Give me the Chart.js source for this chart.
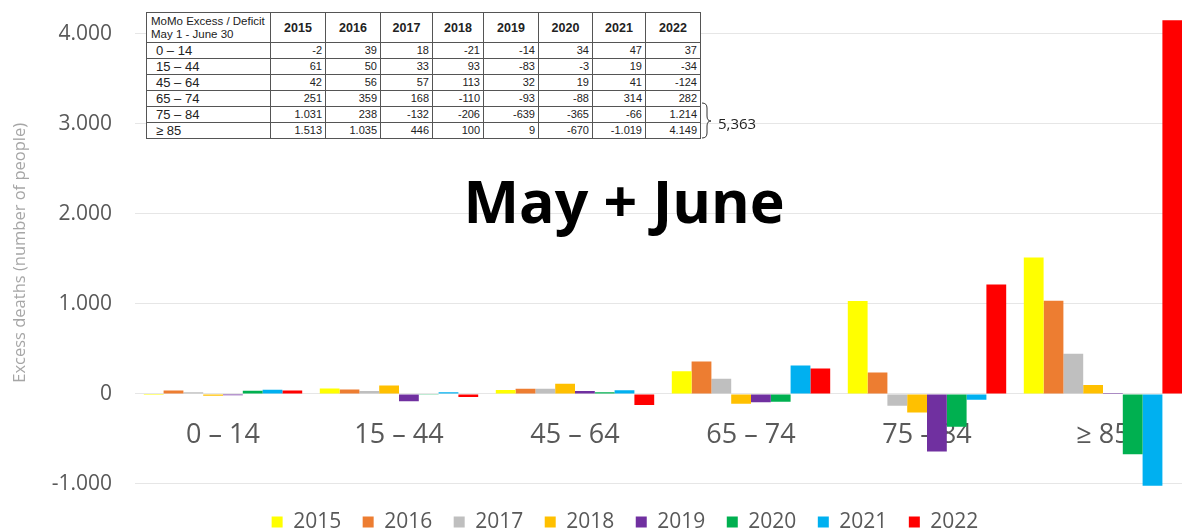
<!DOCTYPE html>
<html>
<head>
<meta charset="utf-8">
<script src="https://cdn.jsdelivr.net/npm/chart.js@4/dist/chart.umd.min.js"></script>
<style>
  html, body { margin: 0; padding: 0; background: #fff; }
  #wrap { position: relative; width: 1182px; height: 530px; overflow: hidden; }
  #c { position: absolute; left: 0; top: 0; }
  #tbl {
    position: absolute; left: 146px; top: 12px;
    border-collapse: collapse; table-layout: fixed;
    font-family: "Liberation Sans", Arial, sans-serif; color: #222;
    background: #fff;
  }
  #tbl td, #tbl th { border: 1px solid #555; padding: 0 3px; white-space: nowrap; overflow: hidden; }
  #tbl th { height: 29px; font-size: 12.5px; font-weight: bold; text-align: center; }
  #tbl th.lbl { font-size: 11.5px; font-weight: normal; text-align: left; line-height: 13px; padding-left: 4px; }
  #tbl td { height: 15px; font-size: 11px; text-align: right; line-height: 15px; }
  #tbl td.age { font-size: 13px; text-align: left; padding-left: 9px; }
  #brace { position: absolute; left: 698px; top: 100px; }
  #sum { position: absolute; left: 718px; top: 113px; font: 15px "Open Sans", sans-serif; color: #222; }
</style>
</head>
<body>
<div id="wrap">
  <canvas id="c" width="1250" height="530"></canvas>
  <table id="tbl"></table>
  <svg id="brace" width="20" height="42" viewBox="0 0 20 42">
    <path d="M4 3 Q9 3 9 8 L9 16 Q9 21 13 21 Q9 21 9 26 L9 33 Q9 38 4 38" fill="none" stroke="#333" stroke-width="1"/>
  </svg>
  <div id="sum"></div>
</div>
<script>
// Age groups and years
const ageGroups = ['0 – 14', '15 – 44', '45 – 64', '65 – 74', '75 – 84', '≥ 85'];
const years = ['2015', '2016', '2017', '2018', '2019', '2020', '2021', '2022'];

// Excess / deficit deaths, May 1 - June 30, per age group
const y2015 = [-2, 61, 42, 251, 1031, 1513];
const y2016 = [39, 50, 56, 359, 238, 1035];
const y2017 = [18, 33, 57, 168, -132, 446];
const y2018 = [-21, 93, 113, -110, -206, 100];
const y2019 = [-14, -83, 32, -93, -639, 9];
const y2020 = [34, -3, 19, -88, -365, -670];
const y2021 = [47, 19, 41, 314, -66, -1019];
const y2022 = [37, -34, -124, 282, 1214, 4149];

const seriesByYear = [y2015, y2016, y2017, y2018, y2019, y2020, y2021, y2022];
const yearColors = ['#FFFF00', '#ED7D31', '#BFBFBF', '#FFC000', '#7030A0', '#00B050', '#00B0F0', '#FF0000'];

const tickValues = [-1000, 0, 1000, 2000, 3000, 4000];

function fmtDot(n) {
  const s = String(Math.abs(n)).replace(/\B(?=(\d{3})+(?!\d))/g, '.');
  return (n < 0 ? '-' : '') + s;
}

// Summary table
(function buildTable() {
  const t = document.getElementById('tbl');
  const colW = [124, 55, 55, 52, 51, 55, 54, 53, 55];
  const cg = document.createElement('colgroup');
  colW.forEach(w => { const c = document.createElement('col'); c.style.width = w + 'px'; cg.appendChild(c); });
  t.appendChild(cg);
  const hr = document.createElement('tr');
  const h0 = document.createElement('th');
  h0.className = 'lbl';
  h0.innerHTML = 'MoMo Excess / Deficit<br>May 1 - June 30';
  hr.appendChild(h0);
  years.forEach(y => { const th = document.createElement('th'); th.textContent = y; hr.appendChild(th); });
  t.appendChild(hr);
  ageGroups.forEach((g, i) => {
    const tr = document.createElement('tr');
    const a = document.createElement('td'); a.className = 'age'; a.textContent = g; tr.appendChild(a);
    seriesByYear.forEach(s => { const td = document.createElement('td'); td.textContent = fmtDot(s[i]); tr.appendChild(td); });
    t.appendChild(tr);
  });
  // 2022 total for the two oldest groups
  const total = y2022[4] + y2022[5];
  document.getElementById('sum').textContent = total.toLocaleString('en-US');
})();

// Category labels drawn inside the plot, just below the zero line
const categoryLabels = {
  id: 'categoryLabels',
  beforeDatasetsDraw(chart) {
    const { ctx, scales: { x, y } } = chart;
    const baseY = y.getPixelForValue(0) + 41;
    ctx.save();
    ctx.font = '27px "Open Sans", sans-serif';
    ctx.fillStyle = '#595959';
    ctx.textAlign = 'center';
    ctx.textBaseline = 'middle';
    ageGroups.forEach((g, i) => ctx.fillText(g, x.getPixelForValue(i), baseY));
    ctx.restore();
  }
};

// Big heading over the plot
const heading = {
  id: 'heading',
  afterDraw(chart) {
    const { ctx } = chart;
    ctx.save();
    ctx.font = 'bold 59px "Open Sans", sans-serif';
    ctx.fillStyle = '#000';
    ctx.textAlign = 'center';
    ctx.textBaseline = 'alphabetic';
    ctx.fillText('May + June', 624, 223);
    ctx.restore();
  }
};

new Chart(document.getElementById('c'), {
  type: 'bar',
  data: {
    labels: ageGroups,
    datasets: years.map((yr, i) => ({
      label: yr,
      data: seriesByYear[i],
      backgroundColor: yearColors[i],
      borderWidth: 0,
      categoryPercentage: 0.9,
      barPercentage: 1.0
    }))
  },
  options: {
    responsive: false,
    devicePixelRatio: 1,
    animation: false,
    layout: { padding: { top: 15, left: 0, right: 0, bottom: 0 } },
    plugins: {
      tooltip: { enabled: false },
      legend: {
        position: 'bottom',
        maxHeight: 40,
        labels: {
          boxWidth: 11,
          boxHeight: 11,
          padding: 21.5,
          color: '#595959',
          font: { family: '"Open Sans", sans-serif', size: 21 }
        }
      }
    },
    scales: {
      x: {
        display: false
      },
      y: {
        min: -1067,
        max: 4200,
        afterFit(s) { s.width = 135; },
        afterBuildTicks(s) { s.ticks = tickValues.map(v => ({ value: v })); },
        ticks: {
          padding: 3,
          color: '#595959',
          font: { family: '"Open Sans", sans-serif', size: 21 },
          callback: v => fmtDot(v)
        },
        grid: { color: '#e6e6e6', drawTicks: true, tickLength: 20, tickColor: 'rgba(0,0,0,0)' },
        border: { display: false },
        title: {
          display: true,
          text: 'Excess deaths (number of people)',
          color: '#a6a6a6',
          font: { family: '"Open Sans", sans-serif', size: 16.5 },
          padding: { top: 10, bottom: 0 }
        }
      },
      rightGap: {
        type: 'linear',
        position: 'right',
        afterFit(s) { s.width = 59; },
        ticks: { display: false },
        grid: { display: false },
        border: { display: false }
      }
    }
  },
  plugins: [categoryLabels, heading]
});
</script>
</body>
</html>
